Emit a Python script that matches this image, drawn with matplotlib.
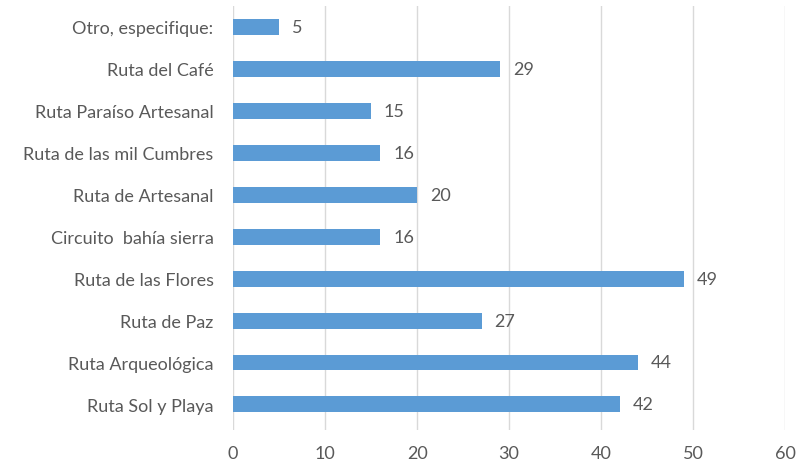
import matplotlib
matplotlib.use("Agg")
from matplotlib import pyplot as plt

# Data, listed bottom to top
categories = ['Ruta Sol y Playa', 'Ruta Arqueológica', 'Ruta de Paz', 'Ruta de las Flores',
              'Circuito  bahía sierra', 'Ruta de Artesanal', 'Ruta de las mil Cumbres',
              'Ruta Paraíso Artesanal', 'Ruta del Café', 'Otro, especifique:']
values = [42, 44, 27, 49, 16, 20, 16, 15, 29, 5]
xticks = [0, 10, 20, 30, 40, 50, 60]

plt.rcParams['font.family'] = ['Lato', 'DejaVu Sans']
text_color = '#595959'
fs = 13

fig = plt.figure(figsize=(7.98, 4.64), dpi=100)
ax = fig.add_axes([0.292, 0.072, 0.692, 0.913])

ypos = range(len(categories))
ax.barh(ypos, values, height=0.38, color='#5B9BD5', zorder=3)
for y, v in zip(ypos, values):
    ax.text(v + 1.4, y, str(v), va='center', ha='left', fontsize=fs, color=text_color)

ax.set_xlim(0, 60)
ax.set_ylim(-0.6, len(categories) - 0.5)
ax.set_xticks(xticks)
ax.set_yticks(list(ypos))
ax.set_yticklabels(categories)
ax.tick_params(axis='both', length=0, labelsize=fs, colors=text_color)
ax.tick_params(axis='y', pad=14)
ax.tick_params(axis='x', pad=11)
ax.grid(axis='x', color='#D9D9D9', linewidth=1, zorder=0)
for s in ax.spines.values():
    s.set_visible(False)

fig.savefig('out.png', dpi=100)
